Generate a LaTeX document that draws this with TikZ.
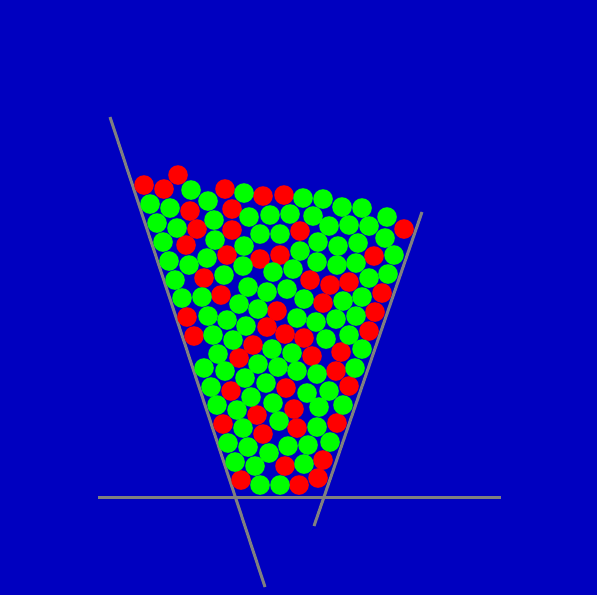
\documentclass[tikz,border=0pt]{standalone}
\definecolor{BinBlue}  {RGB}{0,0,192}
\definecolor{WallGray} {RGB}{128,128,128}
\definecolor{BallRed}  {RGB}{255,0,0}
\definecolor{BallGreen}{RGB}{0,255,0}
\usetikzlibrary{calc}

\begin{document}
\begin{tikzpicture}[x=1pt,y=-1pt,
    wall/.style={WallGray,line width=3pt},
    ball/.style={fill=#1}]
  \fill[BinBlue] (0,0) rectangle (597,595);
  \useasboundingbox (0,0) rectangle (597,595);
  % walls and floor
  \coordinate (LT) at (110,117);
  \coordinate (LB) at (265,587);
  \coordinate (RT) at (422,212);
  \coordinate (RB) at (314,526);
  \coordinate (FL) at (98,497);
  \coordinate (FR) at (501,497);
  \draw[wall] (LT) -- (LB);
  \draw[wall] (RT) -- (RB);
  \draw[wall] (FL) -- (FR);
  % red balls
  \foreach \x/\y in {178/175,144/185,164/189,225/189,263/196,284/195,404/229,
      190/211,232/209,197/229,232/230,300/231,374/256,186/245,227/255,260/259,
      280/255,204/278,310/280,330/285,349/282,382/293,221/295,323/303,375/312,
      187/317,277/311,369/331,194/336,267/327,285/334,304/338,253/345,239/358,
      312/356,341/352,336/371,231/391,286/388,349/386,294/409,223/424,257/415,
      297/428,337/423,263/434,285/466,323/460,241/480,299/485,318/478}
    \fill[ball=BallRed] (\x,\y) circle (9.8);
  % green balls
  \foreach \x/\y in {191/190,244/193,303/198,323/199,342/207,362/208,387/217,
      150/204,170/208,208/201,249/217,270/215,290/214,313/216,329/226,349/225,
      369/226,385/238,394/255,157/223,177/228,214/220,260/234,280/234,318/242,
      338/246,358/243,163/242,215/240,244/246,300/251,317/262,337/265,356/263,
      369/278,388/274,169/261,189/265,207/258,243/266,175/280,224/275,273/272,
      293/269,182/298,202/297,248/287,267/292,287/289,304/299,343/301,362/297,
      208/316,227/320,239/304,258/309,297/318,316/322,336/319,356/316,213/335,
      233/340,246/326,326/339,349/335,362/349,218/354,272/349,292/353,204/368,
      225/371,245/378,258/364,278/367,297/371,317/374,355/368,211/387,266/383,
      307/393,329/391,217/405,237/410,251/397,273/403,319/407,343/405,243/428,
      279/421,317/427,228/443,248/447,269/453,288/446,308/445,330/442,235/462,
      255/466,304/464,260/485,280/485}
    \fill[ball=BallGreen] (\x,\y) circle (9.8);
\end{tikzpicture}
\end{document}
